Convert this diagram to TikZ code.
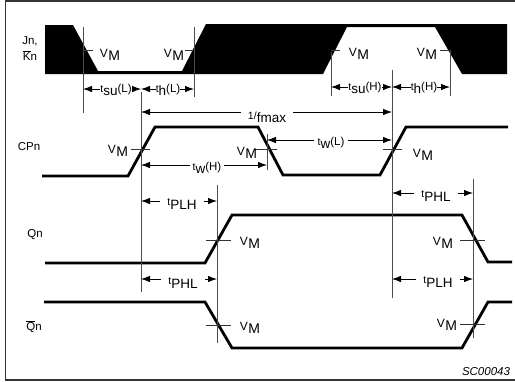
\documentclass[tikz,border=0pt]{standalone}
\usepackage{fontspec}
\setmainfont{Liberation Sans}
\usetikzlibrary{arrows.meta}
\newcommand{\lowr}[1]{\raisebox{-0.25em}{#1}}
\newcommand{\VM}{{\fontsize{12}{12}\selectfont V\hspace{0.5pt}\lowr{\fontsize{14}{14}\selectfont M}}}
\newcommand{\tlab}[2]{{\fontsize{10.5}{10.5}\selectfont t}{\fontsize{13.5}{13.5}\selectfont\lowr{#1}}{\fontsize{11.5}{11.5}\selectfont #2}}

\begin{document}
\begin{tikzpicture}[x=1pt, y=-1pt,
	sigLine/.style={line width=2.8pt, line join=miter},
	guideLine/.style={line width=0.7pt, black!70},
	tickLine/.style={line width=0.7pt, black!80},
	dimArrow/.style={line width=0.8pt, -{Latex[length=9pt,width=6.5pt]}},
	lbl/.style={inner sep=2pt, font=\fontsize{11.5}{11.5}\selectfont},
	wideLbl/.style={lbl, inner xsep=7pt}]
	\useasboundingbox (0,0) rectangle (515,381);

	% Frame
	\draw[line width=1.2pt, black!80] (516,1) -- (5.5,1) -- (5.5,380) -- (516,380);

	% Waveforms
	\fill (45,25) -- (73,25) -- (98,71) -- (182,71) -- (206,24) -- (507,24) -- (507,74) -- (462,74) -- (435,27) -- (347,27) -- (323,74) -- (45,74) -- cycle;
	\draw[sigLine] (42,176) -- (128,176) -- (155,127) -- (258,127) -- (283,175) -- (380,175) -- (406,127) -- (508,127);
	\draw[sigLine] (45,263) -- (205,263) -- (232,215) -- (462,215) -- (488,262) -- (512,262);
	\draw[sigLine] (44,302) -- (205,302) -- (232,348) -- (462,348) -- (488,302) -- (512,302);

	% Guides
	\draw[guideLine] (83,27) -- (83,113);
	\draw[guideLine] (194,27) -- (194,97);
	\draw[guideLine] (141,92) -- (141,292);
	\draw[guideLine] (331,52) -- (331,96);
	\draw[guideLine] (450,50) -- (450,96);
	\draw[guideLine] (392,70) -- (392,298);
	\draw[guideLine] (217,185) -- (217,343);
	\draw[guideLine] (473,179) -- (473,338);
	\draw[guideLine] (267,134) -- (267,170);

	% Ticks
	\draw[tickLine] (83,50) -- (93,50);
	\draw[tickLine] (185,50) -- (192,50);
	\draw[tickLine] (331,50) -- (340,50);
	\draw[tickLine] (440,50) -- (450,50);
	\draw[tickLine] (131,149) -- (150,149);
	\draw[tickLine] (255,149) -- (277,149);
	\draw[tickLine] (383,149) -- (402,149);
	\draw[tickLine] (206,240) -- (231,240);
	\draw[tickLine] (460,240) -- (485,240);
	\draw[tickLine] (206,325) -- (231,325);
	\draw[tickLine] (460,324) -- (485,324);

	% Signal names
	\node[lbl] (Jn) at (30,41) {Jn,};
	\node[lbl] (Kn) at (30,56) {$\overline{\mbox{K}}$n};
	\node[lbl] (CPn) at (29,147) {CPn};
	\node[lbl] (Qn) at (35,235) {Qn};
	\node[lbl] (Qbar) at (34,327) {$\overline{\mbox{Q}}$n};

	% VM labels
	\node[lbl] (vm1) at (110,55) {\VM};
	\node[lbl] (vm2) at (174,55) {\VM};
	\node[lbl] (vm3) at (359,54) {\VM};
	\node[lbl] (vm4) at (427,54) {\VM};
	\node[lbl] (vm5) at (118,151) {\VM};
	\node[lbl] (vm6) at (247,153) {\VM};
	\node[lbl] (vm7) at (423,155) {\VM};
	\node[lbl] (vm8) at (250,243) {\VM};
	\node[lbl] (vm9) at (443,243) {\VM};
	\node[lbl] (vm10) at (250,328) {\VM};
	\node[lbl] (vm11) at (447,325) {\VM};

	% Timing labels
	\node[lbl, inner xsep=0pt] (tsuL) at (116,90) {\tlab{su}{(L)}};
	\node[lbl, inner xsep=0pt] (thL) at (168,90) {\tlab{h}{(L)}};
	\node[lbl, inner xsep=0pt] (tsuH) at (365,88) {\tlab{su}{(H)}};
	\node[lbl, inner xsep=0pt] (thH) at (424,88) {\tlab{h}{(H)}};
	\node[wideLbl] (fmax) at (267,117) {{\fontsize{10.5}{10.5}\selectfont 1/}{\fontsize{13.5}{13.5}\selectfont\lowr{f}\lowr{max}}};
	\node[lbl] (twH) at (207,168) {\tlab{w}{(H)}};
	\node[lbl, inner xsep=3pt] (twL) at (331,143) {\tlab{w}{(L)}};
	\node[wideLbl] (tPLHa) at (182,204) {\tlab{PLH}{}};
	\node[wideLbl] (tPHLa) at (436,196) {\tlab{PHL}{}};
	\node[wideLbl] (tPHLb) at (183,283) {\tlab{PHL}{}};
	\node[wideLbl] (tPLHb) at (438,282) {\tlab{PLH}{}};
	\node[font=\fontsize{11.5}{11.5}\selectfont\itshape] (code) at (486,372) {SC00043};

	% Arrow ends on the guides
	\coordinate (a1) at (83,89);
	\coordinate (a2) at (141,89);
	\coordinate (a3) at (194,89);
	\coordinate (a4) at (331,87);
	\coordinate (a5) at (392,87);
	\coordinate (a6) at (450,87);
	\coordinate (a7) at (141,112);
	\coordinate (a8) at (392,112);
	\coordinate (a9) at (141,165);
	\coordinate (a10) at (267,165);
	\coordinate (a11) at (267,140);
	\coordinate (a12) at (392,140);
	\coordinate (a13) at (141,201);
	\coordinate (a14) at (217,201);
	\coordinate (a15) at (392,193);
	\coordinate (a16) at (473,193);
	\coordinate (a17) at (141,279);
	\coordinate (a18) at (217,279);
	\coordinate (a19) at (392,279);
	\coordinate (a20) at (473,279);

	\draw[dimArrow] (tsuL.west |- a1) -- (a1);
	\draw[dimArrow] (tsuL.east |- a2) -- (a2);
	\draw[dimArrow] (thL.west |- a2) -- (a2);
	\draw[dimArrow] (thL.east |- a3) -- (a3);
	\draw[dimArrow] (tsuH.west |- a4) -- (a4);
	\draw[dimArrow] (tsuH.east |- a5) -- (a5);
	\draw[dimArrow] (thH.west |- a5) -- (a5);
	\draw[dimArrow] (thH.east |- a6) -- (a6);
	\draw[dimArrow] (fmax.west |- a7) -- (a7);
	\draw[dimArrow] (fmax.east |- a8) -- (a8);
	\draw[dimArrow] (twH.west |- a9) -- (a9);
	\draw[dimArrow] (twH.east |- a10) -- (a10);
	\draw[dimArrow] (twL.west |- a11) -- (a11);
	\draw[dimArrow] (twL.east |- a12) -- (a12);
	\draw[dimArrow] (tPLHa.west |- a13) -- (a13);
	\draw[dimArrow] (tPLHa.east |- a14) -- (a14);
	\draw[dimArrow] (tPHLa.west |- a15) -- (a15);
	\draw[dimArrow] (tPHLa.east |- a16) -- (a16);
	\draw[dimArrow] (tPHLb.west |- a17) -- (a17);
	\draw[dimArrow] (tPHLb.east |- a18) -- (a18);
	\draw[dimArrow] (tPLHb.west |- a19) -- (a19);
	\draw[dimArrow] (tPLHb.east |- a20) -- (a20);
\end{tikzpicture}
\end{document}
